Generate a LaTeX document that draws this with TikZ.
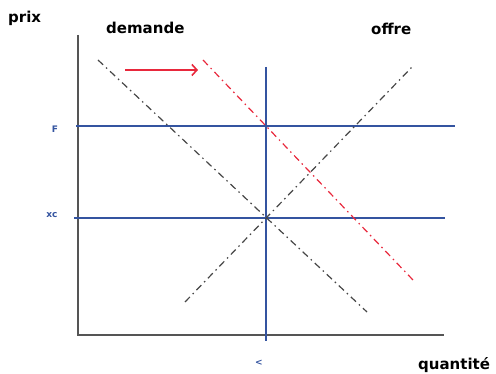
\documentclass[tikz,border=0pt]{standalone}
\usepackage{fontspec}
\setmainfont{DejaVu Sans}
\usepackage{xcolor}
\usetikzlibrary{arrows.meta,positioning}
\definecolor{axisgray}{RGB}{85,85,85}
\definecolor{lineblue}{RGB}{52,84,160}
\definecolor{shiftred}{RGB}{232,40,60}
\definecolor{curvegray}{RGB}{70,70,70}
\tikzset{
  axis/.style={axisgray,line width=2.2pt},
  guide/.style={lineblue,line width=1.6pt},
  curve/.style={curvegray,line width=1.2pt,dash pattern=on 7pt off 4pt on 1.5pt off 4pt},
  shifted/.style={curve,shiftred},
  title/.style={font=\fontsize{15}{18}\selectfont\bfseries,inner sep=0pt},
  tick/.style={lineblue,font=\fontsize{9}{10}\selectfont\bfseries,inner sep=0pt}
}
\begin{document}
\begin{tikzpicture}[x=1pt,y=-1pt]
\useasboundingbox (0,0) rectangle (496,374);
% axes
\coordinate (top) at (78,35);
\coordinate (origin) at (78,335);
\coordinate (right) at (444,335);
\draw[axis] (top) -- (origin) -- (right);
% price and quantity guides
\foreach \name/\y/\xa/\xb in {pa/126/76/455, pb/218/74/445} {
  \coordinate (\name-l) at (\xa,\y);
  \coordinate (\name-r) at (\xb,\y);
  \draw[guide] (\name-l) -- (\name-r);
}
\coordinate (q-t) at (266,67);
\coordinate (q-b) at (266,341);
\draw[guide] (q-t) -- (q-b);
% curves
\coordinate (dem-a) at (98,60);
\coordinate (dem-b) at (367,312);
\coordinate (off-a) at (185,302);
\coordinate (off-b) at (412,67);
\coordinate (new-a) at (203,60);
\coordinate (new-b) at (413,280);
\draw[curve] (dem-a) -- (dem-b);
\draw[curve] (off-a) -- (off-b);
\draw[shifted] (new-a) -- (new-b);
% shift arrow
\coordinate (arr-a) at (125,70);
\coordinate (arr-b) at (198,70);
\draw[shiftred,line width=1.6pt,-{Straight Barb[length=5pt,width=11pt]}] (arr-a) -- (arr-b);
% labels
\node[title,anchor=north west] (prix) at (8,11) {prix};
\node[title,anchor=north west] (demande) at (106,22) {demande};
\node[title,anchor=north west] (offre) at (371,23) {offre};
\node[title,anchor=north west] (quantite) at (418,357) {quantité};
\node[tick] (tp) at (55,129) {F};
\node[tick] (tpb) at (52,215) {xc};
\node[tick] (tq) at (259,363) {<};
\end{tikzpicture}
\end{document}
